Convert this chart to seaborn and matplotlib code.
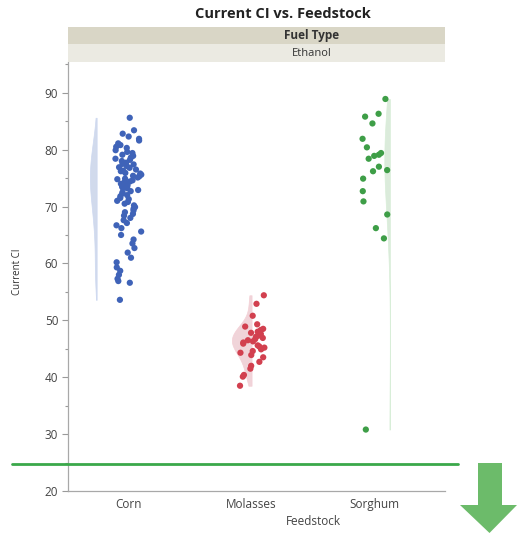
import numpy as np
import pandas as pd
import matplotlib
matplotlib.use("Agg")
import matplotlib.pyplot as plt
import seaborn as sns
from matplotlib.patches import Polygon, Rectangle
from matplotlib.ticker import MultipleLocator

# data
feedstocks = ["Corn", "Molasses", "Sorghum"]
corn_ci = [85.6, 83.4, 82.8, 82.3, 81.9, 81.6, 81.1, 80.8, 80.5, 80.3, 79.9, 79.6,
           79.4, 79.1, 78.9, 78.6, 78.4, 78.2, 78.0, 77.7, 77.5, 77.4, 77.1, 76.9,
           76.8, 76.5, 76.3, 76.2, 75.9, 75.8, 75.6, 75.4, 75.3, 75.1, 74.9, 74.8,
           74.6, 74.4, 74.3, 74.0, 73.9, 73.7, 73.5, 73.3, 73.2, 72.9, 72.7, 72.5,
           72.3, 72.0, 71.8, 71.5, 71.3, 71.0, 70.8, 70.5, 70.2, 69.9, 69.6, 69.3,
           69.0, 68.7, 68.4, 68.0, 67.6, 67.1, 66.7, 66.2, 65.6, 65.0, 64.2, 63.5,
           62.7, 61.9, 61.0, 60.2, 59.3, 58.7, 58.0, 57.3, 56.9, 56.6, 53.6]
molasses_ci = [54.4, 52.9, 50.8, 49.3, 48.9, 48.5, 48.3, 48.0, 47.8, 47.6, 47.3,
               47.1, 46.9, 46.7, 46.5, 46.3, 46.1, 45.9, 45.6, 45.4, 45.2, 44.9,
               44.6, 44.3, 43.9, 43.5, 42.7, 42.0, 41.5, 40.4, 40.1, 38.5]
sorghum_ci = [88.9, 86.3, 85.8, 84.6, 81.9, 80.4, 79.4, 79.1, 78.9, 78.4, 77.0,
              76.4, 76.2, 74.9, 72.7, 70.9, 68.6, 66.2, 64.4, 30.8]
target_ci = 24.8

point_colors = ["#3f63b8", "#d2404f", "#3e9e47"]
violin_colors = ["#cdd8f0", "#f4d0d6", "#d8eed8"]
violin_shift = [-0.285, -0.08, 0.10]
violin_width = [0.055, 0.16, 0.045]

series = [corn_ci, molasses_ci, sorghum_ci]
points = pd.concat([
    pd.DataFrame({"Feedstock": name, "pos": float(i), "Current CI": vals})
    for i, (name, vals) in enumerate(zip(feedstocks, series))
], ignore_index=True)

sns.set_style("ticks")
plt.rcParams["font.family"] = ["Open Sans", "DejaVu Sans"]

fig = plt.figure(figsize=(5.25, 5.33), dpi=100)
ax = fig.add_axes([68 / 525, 1 - 491 / 533, 377 / 525, 429 / 533])

for i, name in enumerate(feedstocks):
    sub = points[points["Feedstock"] == name].copy()
    sub["vpos"] = sub["pos"] + violin_shift[i]
    sns.violinplot(data=sub, x="vpos", y="Current CI", native_scale=True,
                   split=True, inner=None, cut=0, width=violin_width[i],
                   color=violin_colors[i], linewidth=0.5,
                   linecolor=violin_colors[i], ax=ax)

np.random.seed(3)
sns.stripplot(data=points, x="pos", y="Current CI", hue="Feedstock",
              palette=point_colors, native_scale=True, jitter=0.11, size=4.5,
              linewidth=0, legend=False, ax=ax, zorder=3)

ax.set_xlim(-0.49, 2.57)
ax.set_ylim(20, 95.4)
ax.set_xticks(range(len(feedstocks)))
ax.set_xticklabels(feedstocks)
ax.yaxis.set_major_locator(MultipleLocator(10))
ax.yaxis.set_minor_locator(MultipleLocator(5))
ax.tick_params(axis="x", length=0, pad=5, labelsize=8.5, colors="#444444")
ax.tick_params(axis="y", which="major", length=4, width=0.8, color="#9a9a9a",
               labelsize=8.5, labelcolor="#444444", pad=3)
ax.tick_params(axis="y", which="minor", length=2.5, width=0.8, color="#9a9a9a")
for side in ["top", "right"]:
    ax.spines[side].set_visible(False)
for side in ["left", "bottom"]:
    ax.spines[side].set_color("#a8a8a8")
    ax.spines[side].set_linewidth(0.9)

ax.set_xlabel("Feedstock", fontsize=8.5, color="#444444")
ax.xaxis.set_label_coords((313 - 68) / 377, -0.055)
ax.set_ylabel("Current CI", fontsize=7, color="#333333")
ax.yaxis.set_label_coords((23 - 68) / 377, (491 - 272) / 429)

# target line across the frame
ax.axhline(target_ci, xmin=(12 - 68) / 377, xmax=(458 - 68) / 377,
           color="#3aa84a", linewidth=2, clip_on=False, zorder=4)

# header bands
fig.patches.append(Rectangle((68 / 525, 1 - 44 / 533), 377 / 525, 17 / 533,
                             transform=fig.transFigure, facecolor="#d9d6c6",
                             edgecolor="none"))
fig.patches.append(Rectangle((68 / 525, 1 - 62 / 533), 377 / 525, 18 / 533,
                             transform=fig.transFigure, facecolor="#ebeae2",
                             edgecolor="none"))
fig.text(312 / 525, 1 - 35.5 / 533, "Fuel Type", ha="center", va="center",
         fontsize=8.5, fontweight="bold", color="#333333")
fig.text(312 / 525, 1 - 53 / 533, "Ethanol", ha="center", va="center",
         fontsize=8, color="#333333")
fig.text(283 / 525, 1 - 14 / 533, "Current CI vs. Feedstock", ha="center",
         va="center", fontsize=10.5, fontweight="bold", color="#222222")

# down arrow
arrow = [(478, 463), (502, 463), (502, 505), (517, 505), (489.5, 533),
         (460, 505), (478, 505)]
fig.patches.append(Polygon([(x / 525, 1 - y / 533) for x, y in arrow],
                           closed=True, transform=fig.transFigure,
                           facecolor="#6cbb6a", edgecolor="none"))

fig.savefig("out.png", dpi=100)
